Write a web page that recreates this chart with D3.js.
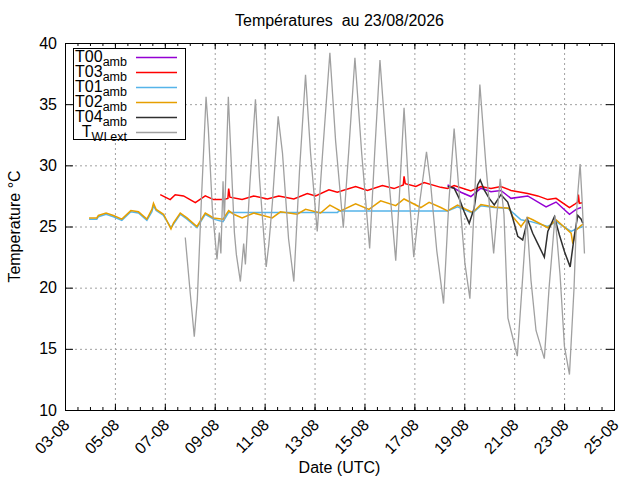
<!DOCTYPE html>
<html>
<head>
<meta charset="utf-8">
<script src="https://cdn.jsdelivr.net/npm/d3@7"></script>
<style>
  body { margin: 0; background: #fff; }
  text { font-family: "Liberation Sans", Arial, sans-serif; white-space: pre; }
</style>
</head>
<body>
<div id="chart"></div>
<script>
const t00 = [
  ["18 07:55", 28.4], ["18 14:15", 28.13], ["18 20:45", 27.8], ["19 06:20", 27.45],
  ["19 16:00", 28.13], ["20 01:40", 27.85], ["20 11:15", 27.95], ["20 20:55", 27.3],
  ["21 13:00", 27.5], ["22 06:40", 26.6], ["22 16:15", 27.0], ["23 05:10", 26.0],
  ["23 11:35", 26.4], ["23 16:25", 26.55]
];

const t03 = [
  ["06 19:35", 27.6], ["07 05:10", 27.2], ["07 10:00", 27.6], ["07 18:00", 27.5],
  ["08 05:20", 26.95], ["08 14:55", 27.5], ["08 22:55", 27.2], ["09 08:35", 27.2],
  ["09 12:40", 27.3], ["09 13:25", 28.1], ["09 14:35", 27.4], ["10 02:20", 27.2],
  ["10 13:30", 27.5], ["11 02:40", 27.25], ["11 13:35", 27.5], ["12 04:05", 27.25],
  ["12 17:00", 27.7], ["13 01:00", 27.5], ["13 13:50", 28.0], ["13 21:50", 27.8],
  ["14 15:30", 28.27], ["15 02:50", 27.95], ["15 17:15", 28.35], ["16 04:25", 28.1],
  ["16 13:20", 28.4], ["16 14:05", 29.1], ["16 15:15", 28.5], ["17 01:25", 28.27],
  ["17 09:25", 28.6], ["18 01:25", 28.2], ["18 07:55", 28.1], ["18 14:15", 28.35],
  ["19 06:20", 27.9], ["19 16:00", 28.27], ["20 01:40", 28.1], ["20 11:15", 28.27],
  ["20 20:55", 27.95], ["21 13:00", 27.7], ["21 22:40", 27.5], ["22 08:20", 27.2],
  ["22 16:15", 27.3], ["23 05:10", 26.55], ["23 09:55", 26.8], ["23 13:00", 27.0],
  ["23 13:45", 27.6], ["23 14:40", 26.9], ["23 17:25", 26.95]
];

const t01 = [
  ["03 23:10", 25.6], ["04 06:35", 25.6], ["04 08:05", 25.8], ["04 15:30", 26.0],
  ["04 22:35", 25.8], ["05 06:40", 25.5], ["05 15:20", 26.2], ["05 22:40", 26.1],
  ["06 06:45", 25.5], ["06 11:35", 26.2], ["06 13:05", 26.7], ["06 15:40", 26.3],
  ["06 22:45", 25.9], ["07 05:55", 24.9], ["07 08:25", 25.2], ["07 14:50", 26.0],
  ["07 21:20", 25.6], ["08 06:55", 24.9], ["08 14:55", 26.0], ["08 22:55", 25.6],
  ["09 08:00", 25.4], ["09 13:25", 26.15], ["13 22:10", 26.15], ["13 23:10", 26.27],
  ["18 07:55", 26.27], ["18 17:30", 26.6], ["19 08:00", 26.1], ["19 16:00", 26.7],
  ["20 04:50", 26.55], ["20 17:45", 26.5], ["21 06:35", 25.55], ["21 16:10", 25.4],
  ["22 08:20", 25.0], ["22 16:15", 25.4], ["23 06:45", 24.6], ["23 11:35", 24.8],
  ["23 18:00", 25.0]
];

const t02 = [
  ["03 23:10", 25.7], ["04 06:35", 25.7], ["04 08:05", 25.9], ["04 15:30", 26.1],
  ["04 22:35", 25.9], ["05 06:40", 25.6], ["05 15:20", 26.3], ["05 22:40", 26.2],
  ["06 06:45", 25.6], ["06 11:35", 26.4], ["06 13:05", 26.9], ["06 15:40", 26.4],
  ["06 22:45", 26.0], ["07 05:55", 24.8], ["07 08:25", 25.3], ["07 14:50", 26.1],
  ["07 21:20", 25.7], ["08 06:55", 25.0], ["08 14:55", 26.1], ["08 22:55", 25.7],
  ["09 08:00", 25.6], ["09 13:25", 26.3], ["09 18:15", 26.0], ["10 02:20", 25.7],
  ["10 13:30", 26.1], ["11 07:15", 25.7], ["11 15:15", 26.2], ["12 07:20", 26.0],
  ["12 15:20", 26.4], ["13 05:45", 26.1], ["13 14:45", 26.75], ["14 01:05", 26.27],
  ["14 15:30", 26.85], ["15 04:20", 26.4], ["15 15:35", 27.1], ["16 06:05", 26.7],
  ["16 14:05", 27.25], ["17 06:10", 26.55], ["17 14:10", 26.98], ["18 01:25", 26.55],
  ["18 07:55", 26.27], ["18 17:30", 26.75], ["19 08:00", 26.15], ["19 16:00", 26.8],
  ["20 04:50", 26.6], ["20 19:15", 26.5], ["20 22:35", 25.8], ["21 06:35", 25.0],
  ["21 13:00", 25.75], ["21 17:50", 25.55], ["22 08:20", 24.9], ["22 16:15", 25.55],
  ["23 06:45", 24.45], ["23 08:25", 23.6], ["23 11:35", 24.7], ["23 16:25", 25.1],
  ["23 18:35", 25.2]
];

const t04 = [
  ["18 07:55", 28.27], ["18 14:15", 28.13], ["18 19:05", 27.3], ["18 23:55", 26.2],
  ["19 04:45", 25.26], ["19 09:30", 26.5], ["19 12:50", 28.4], ["19 15:20", 28.8],
  ["19 19:10", 28.0], ["20 00:00", 27.3], ["20 04:50", 26.76], ["20 11:15", 27.6],
  ["20 17:45", 27.0], ["20 22:35", 25.7], ["21 03:25", 24.2], ["21 08:10", 23.9],
  ["21 13:00", 25.55], ["21 17:50", 24.45], ["21 22:40", 23.6], ["22 05:00", 22.5],
  ["22 08:20", 24.6], ["22 14:40", 25.8], ["22 19:30", 24.3], ["23 00:20", 22.95],
  ["23 05:50", 21.7], ["23 09:55", 24.3], ["23 13:10", 25.9], ["23 16:25", 25.6],
  ["23 18:00", 25.26]
];

const twiExt = [
  ["07 19:40", 24.1], ["08 00:30", 19.5], ["08 04:20", 16.0], ["08 07:15", 19.0],
  ["08 11:05", 27.0], ["08 15:40", 35.6], ["08 17:50", 33.0], ["08 21:40", 26.5],
  ["09 02:10", 22.3], ["09 04:25", 24.5], ["09 05:55", 22.8], ["09 08:00", 28.7],
  ["09 09:15", 25.5], ["09 11:10", 30.5], ["09 13:05", 35.6], ["09 16:00", 30.0],
  ["09 18:55", 24.5], ["09 20:50", 22.7], ["10 00:40", 20.5], ["10 03:50", 23.6],
  ["10 05:30", 21.9], ["10 09:50", 28.5], ["10 15:10", 35.4], ["10 19:00", 29.0],
  ["10 22:10", 25.4], ["11 01:30", 21.7], ["11 04:00", 23.5], ["11 07:30", 27.0],
  ["11 13:00", 34.0], ["11 17:10", 31.0], ["11 23:00", 24.0], ["12 04:05", 20.5],
  ["12 09:30", 29.5], ["12 15:20", 37.4], ["12 20:10", 31.0], ["13 02:35", 24.6],
  ["13 07:45", 31.0], ["13 14:45", 39.2], ["13 20:15", 32.0], ["14 03:40", 24.9],
  ["14 08:45", 31.0], ["14 14:50", 38.8], ["14 21:20", 31.0], ["15 05:00", 23.2],
  ["15 09:50", 31.0], ["15 14:55", 38.6], ["15 22:20", 30.0], ["16 06:05", 22.2],
  ["16 09:55", 28.0], ["16 14:05", 34.7], ["16 18:35", 28.0], ["16 23:25", 22.5],
  ["17 05:10", 27.0], ["17 11:40", 31.1], ["17 15:50", 28.3], ["17 21:35", 23.0],
  ["18 04:05", 18.7], ["18 09:10", 27.0], ["18 14:15", 33.0], ["18 18:50", 28.0],
  ["19 00:35", 22.0], ["19 05:25", 19.1], ["19 10:15", 28.0], ["19 15:00", 36.6],
  ["19 20:50", 30.0], ["20 04:15", 22.8], ["20 07:25", 26.0], ["20 10:35", 28.9],
  ["20 14:10", 26.0], ["20 18:00", 17.5], ["21 03:00", 14.4], ["21 07:30", 20.0],
  ["21 12:05", 25.8], ["21 16:10", 20.6], ["21 21:00", 16.5], ["22 05:00", 14.2],
  ["22 09:35", 20.0], ["22 15:20", 25.9], ["22 20:10", 21.0], ["23 00:20", 15.2],
  ["23 05:10", 12.9], ["23 09:35", 20.0], ["23 12:30", 27.0], ["23 15:25", 30.1],
  ["23 17:25", 27.0], ["23 19:35", 22.8]
];

const yTicks = [10, 15, 20, 25, 30, 35, 40];

// Séries dans l'ordre de la légende (et du tracé)
const series = [
  { name: "T00", sub: "amb", color: "#9400d3", data: t00 },
  { name: "T03", sub: "amb", color: "#ff0000", data: t03 },
  { name: "T01", sub: "amb", color: "#56b4e9", data: t01 },
  { name: "T02", sub: "amb", color: "#e69f00", data: t02 },
  { name: "T04", sub: "amb", color: "#303030", data: t04 },
  { name: "T", sub: "WI ext", color: "#a0a0a0", data: twiExt }
];

const width = 640;
const height = 480;
const margin = { top: 43, right: 26, bottom: 70, left: 65 };
const plotW = width - margin.left - margin.right;
const plotH = height - margin.top - margin.bottom;

const parse = d3.utcParse("%Y-%m-%d %H:%M");
const toDate = s => parse("2026-08-" + s);

const svg = d3.select("#chart")
  .append("svg")
  .attr("width", width)
  .attr("height", height);

const x = d3.scaleUtc()
  .domain([toDate("03 00:00"), toDate("25 00:00")])
  .range([margin.left, width - margin.right]);

const y = d3.scaleLinear()
  .domain([10, 40])
  .range([height - margin.bottom, margin.top]);

const majorDays = x.ticks(d3.utcDay.every(2));
const minorHours = x.ticks(d3.utcHour.every(12));

// Grille pointillée
const grid = svg.append("g")
  .attr("stroke", "#a0a0a0")
  .attr("stroke-width", 1)
  .attr("stroke-dasharray", "2,3");

grid.selectAll("line.gx")
  .data(majorDays.slice(1, -1))
  .join("line")
  .attr("x1", d => x(d) + 0.5).attr("x2", d => x(d) + 0.5)
  .attr("y1", margin.top).attr("y2", height - margin.bottom);

grid.selectAll("line.gy")
  .data(yTicks.slice(1, -1))
  .join("line")
  .attr("x1", margin.left).attr("x2", width - margin.right)
  .attr("y1", d => y(d) + 0.5).attr("y2", d => y(d) + 0.5);

// Courbes
const line = d3.line()
  .x(d => x(toDate(d[0])))
  .y(d => y(d[1]));

svg.append("g")
  .selectAll("path")
  .data(series)
  .join("path")
  .attr("fill", "none")
  .attr("stroke", d => d.color)
  .attr("stroke-width", d => d.name === "T" ? 1.3 : 1.5)
  .attr("stroke-linejoin", "miter")
  .attr("d", d => line(d.data));

// Axes (graduations vers l'intérieur, miroir en haut et à droite)
const fmt = d3.utcFormat("%d-%m");

const xAxis = svg.append("g")
  .attr("transform", `translate(0,${height - margin.bottom})`)
  .call(d3.axisBottom(x).tickValues(majorDays).tickSize(-6).tickFormat(fmt));

xAxis.selectAll("text")
  .attr("x", 0)
  .attr("y", 0)
  .attr("dy", "0.35em")
  .attr("text-anchor", "end")
  .attr("transform", "translate(1,12) rotate(-45)");

svg.append("g")
  .attr("transform", `translate(0,${height - margin.bottom})`)
  .call(d3.axisBottom(x).tickValues(minorHours).tickSize(-3).tickFormat(""));

svg.append("g")
  .attr("transform", `translate(0,${margin.top})`)
  .call(d3.axisTop(x).tickValues(majorDays).tickSize(-6).tickFormat(""));

svg.append("g")
  .attr("transform", `translate(0,${margin.top})`)
  .call(d3.axisTop(x).tickValues(minorHours).tickSize(-3).tickFormat(""));

svg.append("g")
  .attr("transform", `translate(${margin.left},0)`)
  .call(d3.axisLeft(y).tickValues(yTicks).tickSize(-8).tickPadding(8));

svg.append("g")
  .attr("transform", `translate(${width - margin.right},0)`)
  .call(d3.axisRight(y).tickValues(yTicks).tickSize(-8).tickFormat(""));

svg.selectAll(".domain").remove();
svg.selectAll(".tick line").attr("stroke", "#000");
svg.selectAll(".tick text")
  .attr("font-size", 16)
  .attr("fill", "#000")
  .attr("font-family", "Liberation Sans, Arial, sans-serif");

svg.append("rect")
  .attr("x", margin.left + 0.5)
  .attr("y", margin.top + 0.5)
  .attr("width", plotW)
  .attr("height", plotH)
  .attr("fill", "none")
  .attr("stroke", "#000")
  .attr("stroke-width", 1);

// Titres
svg.append("text")
  .attr("x", margin.left + plotW / 2)
  .attr("y", 26)
  .attr("text-anchor", "middle")
  .attr("font-size", 16)
  .text("Températures  au 23/08/2026");

svg.append("text")
  .attr("x", margin.left + plotW / 2)
  .attr("y", 473)
  .attr("text-anchor", "middle")
  .attr("font-size", 16)
  .text("Date (UTC)");

svg.append("text")
  .attr("transform", `translate(20,${margin.top + plotH / 2}) rotate(-90)`)
  .attr("text-anchor", "middle")
  .attr("font-size", 16)
  .text("Temperature °C");

// Légende
const legend = svg.append("g");

legend.append("rect")
  .attr("x", 73.5)
  .attr("y", 48.5)
  .attr("width", 112)
  .attr("height", 91)
  .attr("fill", "#fff")
  .attr("stroke", "#000");

const rows = legend.selectAll("g.row")
  .data(series)
  .join("g")
  .attr("transform", (d, i) => `translate(0,${57 + i * 15})`);

rows.append("line")
  .attr("x1", 136).attr("x2", 177)
  .attr("y1", 0.5).attr("y2", 0.5)
  .attr("stroke", d => d.color)
  .attr("stroke-width", 1.5);

const label = rows.append("text")
  .attr("x", 127)
  .attr("y", 5)
  .attr("text-anchor", "end")
  .attr("font-size", 16);

label.append("tspan").text(d => d.name);
label.append("tspan")
  .attr("dy", 4)
  .attr("font-size", 12.5)
  .text(d => d.sub);
</script>
</body>
</html>
